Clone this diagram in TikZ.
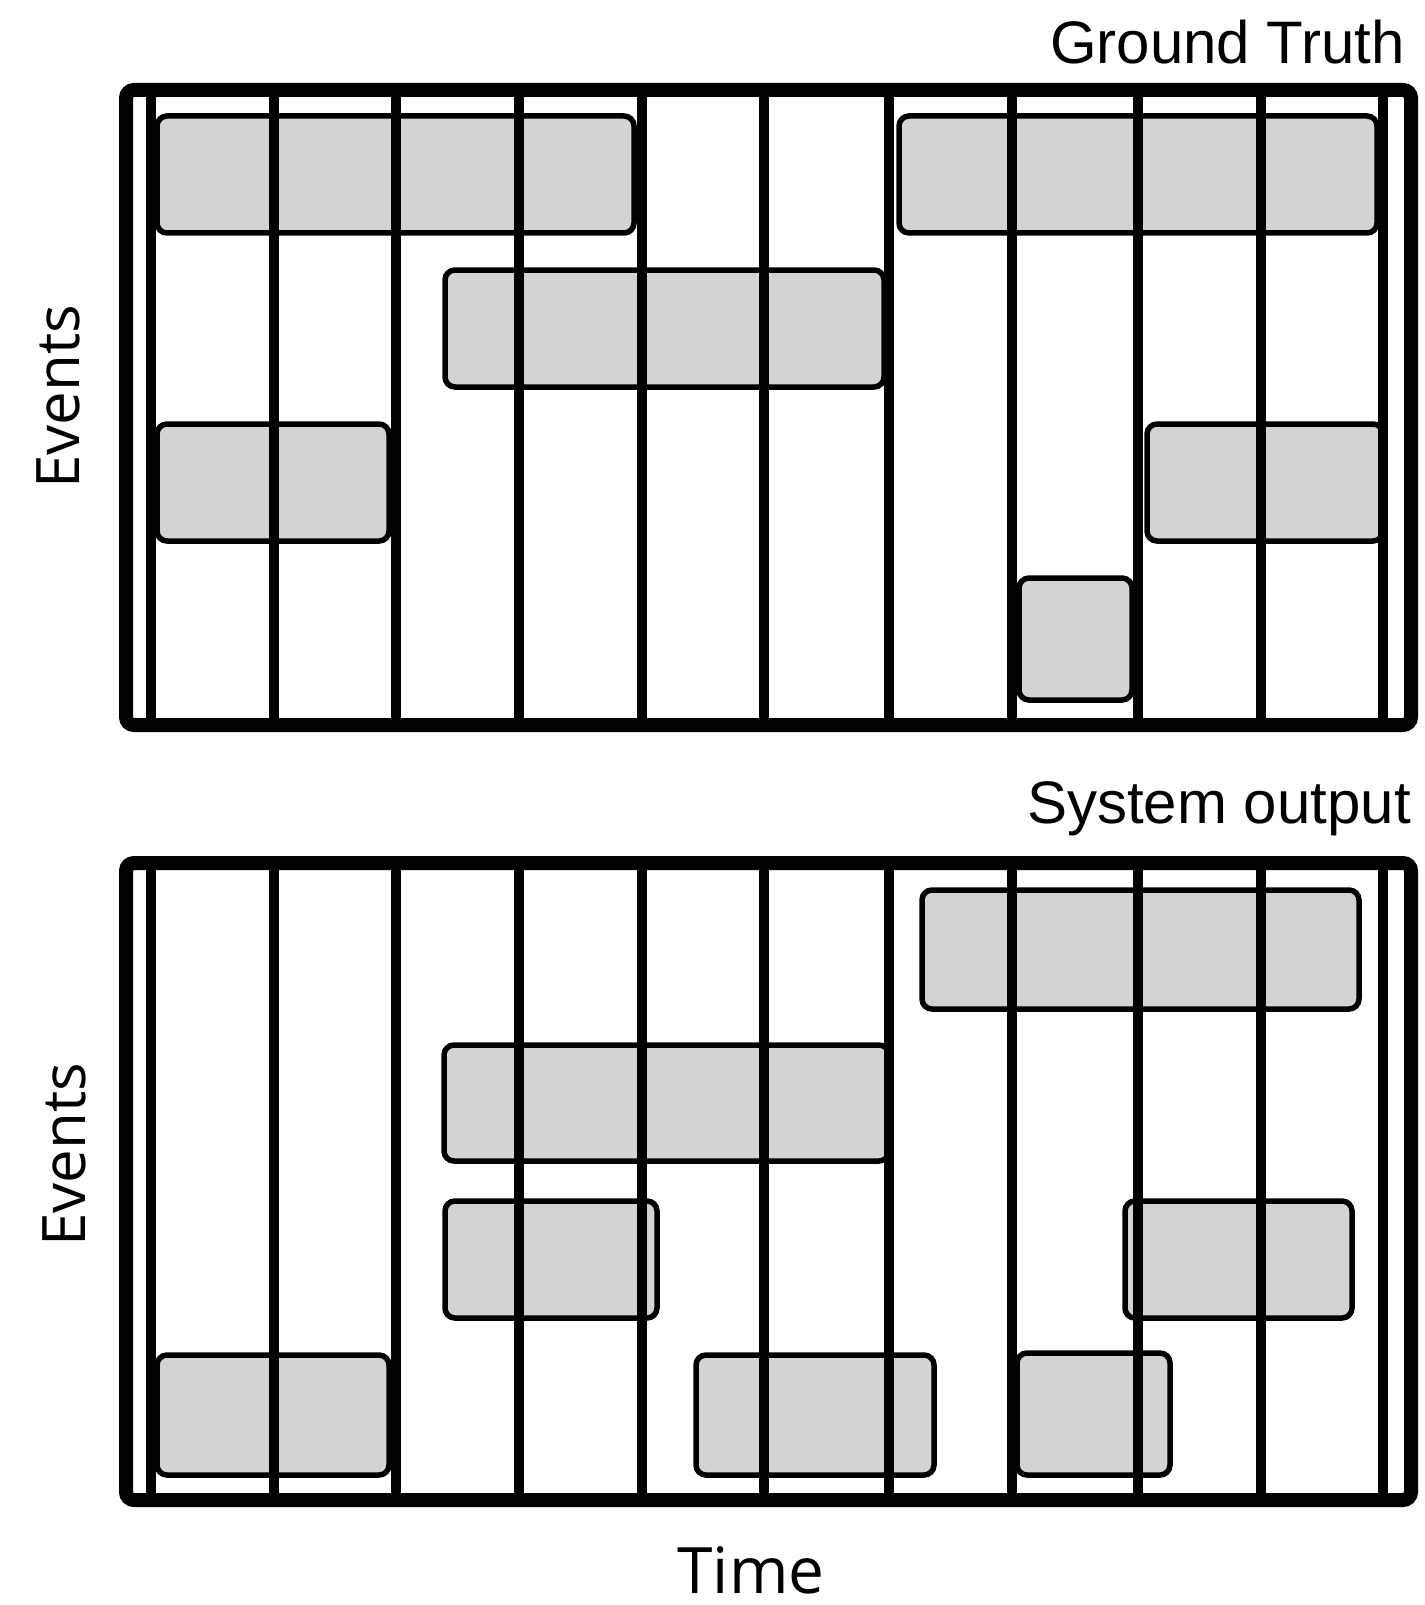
\documentclass[tikz,border=0pt]{standalone}
\usepackage{fontspec}
\setmainfont{Liberation Sans}
\newfontfamily\axisfont{Open Sans}
\definecolor{boxgray}{RGB}{211,211,211}
\begin{document}
\begin{tikzpicture}[x=1pt,y=-1pt,
  frame/.style={line width=14pt,rounded corners=8pt},
  gridline/.style={line width=10pt},
  evbox/.style={draw=black,fill=boxgray,line width=5.5pt,rounded corners=10pt},
  title/.style={font=\fontsize{60}{72}\selectfont,inner sep=0pt},
  axislabel/.style={font=\axisfont\fontsize{60}{72}\selectfont,inner sep=0pt},
  timelabel/.style={font=\axisfont\fontsize{64}{76}\selectfont,inner sep=0pt}
]
\useasboundingbox[fill=white] (0,0) rectangle (1424,1605);

% ---------- Ground truth panel ----------
\draw[evbox] (157,116) rectangle (634,233);
\draw[evbox] (899,116) rectangle (1377,233);
\draw[evbox] (445,270) rectangle (884,387);
\draw[evbox] (157,424) rectangle (389,541);
\draw[evbox] (1147,424) rectangle (1383,541);
\draw[evbox] (1019,578) rectangle (1132,700);
\foreach \x in {151,274,396,519,642,764,889,1012,1138,1261,1383}
  \draw[gridline] (\x,90) -- (\x,725);
\draw[frame] (126,90) rectangle (1411,725);

% ---------- System output panel ----------
\draw[evbox] (922,890) rectangle (1359,1009);
\draw[evbox] (444,1045) rectangle (889,1161);
\draw[evbox] (445,1201) rectangle (657,1318);
\draw[evbox] (1125,1201) rectangle (1352,1318);
\draw[evbox] (157,1355) rectangle (389,1475);
\draw[evbox] (696,1355) rectangle (934,1475);
\draw[evbox] (1017,1353) rectangle (1170,1475);
\foreach \x in {151,274,396,519,642,764,889,1012,1138,1261,1383}
  \draw[gridline] (\x,863) -- (\x,1500);
\draw[frame] (126,863) rectangle (1411,1500);

% ---------- labels ----------
\node[title,anchor=base east] (gt) at (1405,64) {Ground Truth};
\node[title,anchor=base east] (so) at (1411,823) {System output};
\node[axislabel,rotate=90] (ev1) at (58,397) {Events};
\node[axislabel,rotate=90] (ev2) at (64,1155) {Events};
\node[timelabel,anchor=base] (tm) at (751,1593) {Time};
\end{tikzpicture}
\end{document}
